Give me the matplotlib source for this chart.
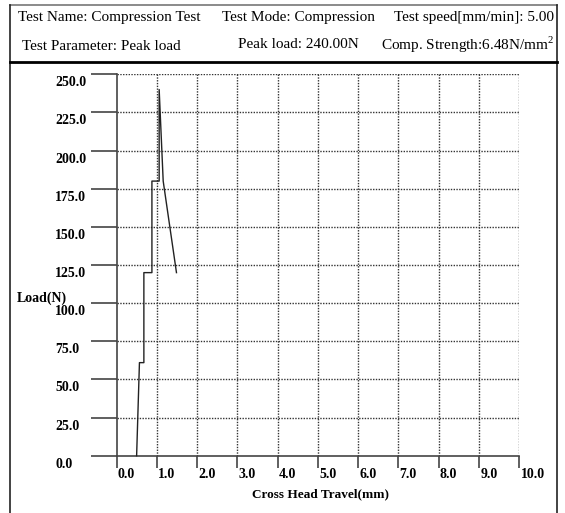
import matplotlib
matplotlib.use("Agg")
import matplotlib.pyplot as plt
from matplotlib.lines import Line2D
from matplotlib.transforms import ScaledTranslation, blended_transform_factory

# curve
travel = [0.50, 0.57, 0.68, 0.68, 0.88, 0.88, 1.06, 1.06, 1.16, 1.49]
load = [0.0, 61.0, 61.0, 120.0, 120.0, 180.0, 180.0, 240.0, 180.0, 120.0]

x_ticks = [0, 1, 2, 3, 4, 5, 6, 7, 8, 9, 10]
y_ticks = [0, 25, 50, 75, 100, 125, 150, 175, 200, 225, 250]

header_row1 = ["Test Name: Compression Test", "Test Mode: Compression", "Test speed[mm/min]: 5.00"]
header_row2 = ["Test Parameter: Peak load", "Peak load: 240.00N", "Comp. Strength:6.48N/mm$^2$"]

W, H = 565, 513
serif = ["Liberation Serif", "DejaVu Serif"]
plt.rcParams["mathtext.fontset"] = "custom"
plt.rcParams["mathtext.rm"] = "Liberation Serif"

fig = plt.figure(figsize=(W / 100, H / 100), dpi=100)


def fx(px):
    return px / W


def fy(py):
    return 1 - py / H


# frame around the report
fig.add_artist(Line2D([fx(10), fx(557)], [fy(5), fy(5)], color="#777777", lw=1.2))
fig.add_artist(Line2D([fx(10), fx(10)], [fy(5), fy(513)], color="#222222", lw=1.2))
fig.add_artist(Line2D([fx(557), fx(557)], [fy(5), fy(513)], color="#222222", lw=1.2))
fig.add_artist(Line2D([fx(10), fx(557)], [fy(62), fy(62)], color="black", lw=2))

# header texts
hs = 11
fig.text(fx(18), fy(18), header_row1[0], fontsize=hs, family=serif, va="center", ha="left")
fig.text(fx(222), fy(18), header_row1[1], fontsize=hs, family=serif, va="center", ha="left")
fig.text(fx(554), fy(18), header_row1[2], fontsize=hs, family=serif, va="center", ha="right")
fig.text(fx(22), fy(46), header_row2[0], fontsize=hs, family=serif, va="center", ha="left")
fig.text(fx(238), fy(45), header_row2[1], fontsize=hs, family=serif, va="center", ha="left")
fig.text(fx(554), fy(45), header_row2[2], fontsize=hs, family=serif, va="center", ha="right")

# plot area
x0, x1 = 116.5, 519
y0, y1 = 455.7, 74.3
ax = fig.add_axes([fx(x0), fy(y0), fx(x1) - fx(x0), fy(y1) - fy(y0)])
ax.set_xlim(0, 10)
ax.set_ylim(0, 250)
ax.patch.set_alpha(0)

for s in ["top", "right"]:
    ax.spines[s].set_visible(False)
for s in ["left", "bottom"]:
    ax.spines[s].set_color("#444444")
    ax.spines[s].set_linewidth(1.2)

# dotted grid
for v in x_ticks[1:]:
    ax.plot([v, v], [0, 250], color="#333333", lw=1.0, ls=(0, (1, 1)), zorder=1)
for v in y_ticks[1:]:
    ax.plot([0, 10], [v, v], color="#333333", lw=1.0, ls=(0, (1, 1)), zorder=1)

ax.set_xticks(x_ticks)
ax.set_yticks(y_ticks)
ax.tick_params(axis="y", direction="out", length=26 * 0.72, width=1.2, color="#444444", labelleft=False)
ax.tick_params(axis="x", direction="out", length=12 * 0.72, width=1.2, color="#444444", labelbottom=False)

ts = 10
ylab_tr = blended_transform_factory(fig.transFigure, ax.transData)
for v in y_ticks:
    ax.text(fx(55), v, f"{v:.1f}", transform=ylab_tr + ScaledTranslation(0, -0.085, fig.dpi_scale_trans),
            fontsize=ts, family=serif, weight="bold", ha="left", va="center")
xlab_tr = blended_transform_factory(ax.transData, fig.transFigure)
for v in x_ticks:
    ax.text(v, fy(474), f"{v:.1f}", transform=xlab_tr + ScaledTranslation(0.015, 0, fig.dpi_scale_trans),
            fontsize=ts, family=serif, weight="bold", ha="left", va="center")

fig.text(fx(17), fy(298), "Load(N)", fontsize=ts, family=serif, weight="bold", ha="left", va="center")
fig.text(fx(320), fy(494), "Cross Head Travel(mm)", fontsize=9.5, family=serif, weight="bold",
         ha="center", va="center")

ax.plot(travel, load, color="#222222", lw=1.0, zorder=3, clip_on=False)

fig.savefig("out.png", dpi=100)
